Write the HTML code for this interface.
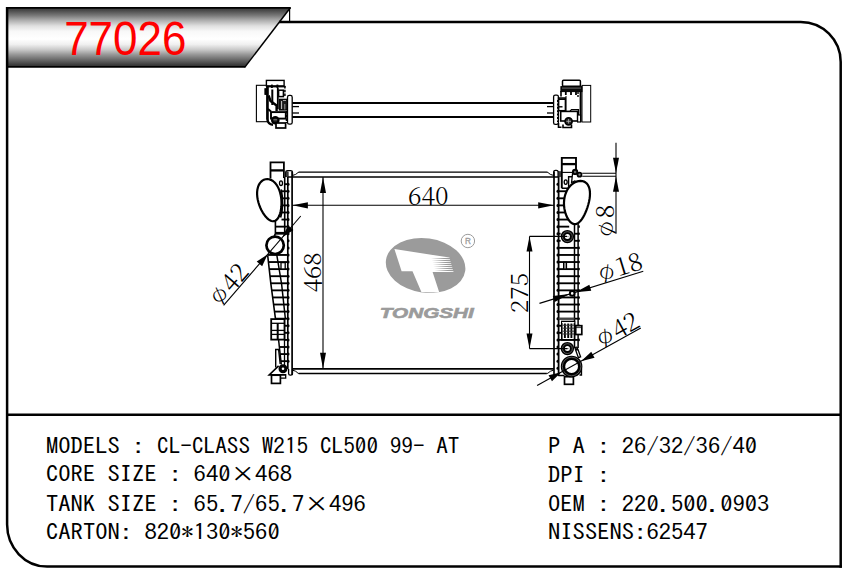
<!DOCTYPE html>
<html><head><meta charset="utf-8"><title>77026</title>
<style>html,body{margin:0;padding:0;background:#fff}svg{display:block}</style></head>
<body>
<svg width="852" height="576" viewBox="0 0 852 576">
<rect width="852" height="576" fill="#fff"/>
<defs><linearGradient id="bg" x1="0" y1="0" x2="0" y2="1"><stop offset="0" stop-color="#3a3a3a"/><stop offset="0.05" stop-color="#4a4a4a"/><stop offset="0.136" stop-color="#7a7a7a"/><stop offset="0.22" stop-color="#b0b0b0"/><stop offset="0.31" stop-color="#e0e0e0"/><stop offset="0.4" stop-color="#f8f8f8"/><stop offset="0.53" stop-color="#ffffff"/><stop offset="0.62" stop-color="#f0f0f0"/><stop offset="0.71" stop-color="#c8c8c8"/><stop offset="0.79" stop-color="#989898"/><stop offset="0.88" stop-color="#686868"/><stop offset="0.97" stop-color="#383838"/><stop offset="1" stop-color="#2a2a2a"/></linearGradient></defs>
<polygon points="7,7.5 290.3,7.5 244.8,67 7,67" fill="url(#bg)"/>
<path d="M 6.5,7.9 H 290.6 M 6.5,66.9 H 245.2" fill="none" stroke="#000" stroke-width="1.7" />
<line x1="290.5" y1="7.5" x2="244.7" y2="67.4" stroke="#000" stroke-width="1.5" />
<line x1="289.6" y1="7.5" x2="289.6" y2="22" stroke="#000" stroke-width="1.2" />
<path d="M 279,22 H 800.7 A 40,40 0 0 1 840.7,62 V 567.8" fill="none" stroke="#000" stroke-width="2.5" />
<path d="M 7.1,7 V 524.6 A 40,42 0 0 0 47.1,566.6 H 841.9" fill="none" stroke="#000" stroke-width="2.5" />
<line x1="7" y1="414.8" x2="841" y2="414.8" stroke="#000" stroke-width="2.5" />
<text x="125.3" y="54.8" font-family="'Liberation Sans','Noto Sans CJK SC',sans-serif" font-size="47.6" text-anchor="middle" fill="#ff0000" textLength="122.3" lengthAdjust="spacingAndGlyphs">77026</text>
<text x="46" y="454.1" font-family="'IPAGothic','Liberation Mono','Noto Sans CJK SC',monospace" font-size="21.8" fill="#000" textLength="98.4" lengthAdjust="spacingAndGlyphs">MODELS :</text>
<text x="548" y="454.3" font-family="'IPAGothic','Liberation Mono','Noto Sans CJK SC',monospace" font-size="21.8" fill="#000" textLength="209.1" lengthAdjust="spacingAndGlyphs">P A : 26/32/36/40</text>
<text x="46" y="482" font-family="'IPAGothic','Liberation Mono','Noto Sans CJK SC',monospace" font-size="21.8" fill="#000" textLength="246" lengthAdjust="spacingAndGlyphs">CORE SIZE : 640×468</text>
<text x="548" y="483.3" font-family="'IPAGothic','Liberation Mono','Noto Sans CJK SC',monospace" font-size="21.8" fill="#000" textLength="61.5" lengthAdjust="spacingAndGlyphs">DPI :</text>
<text x="46" y="512.3" font-family="'IPAGothic','Liberation Mono','Noto Sans CJK SC',monospace" font-size="21.8" fill="#000" textLength="319.8" lengthAdjust="spacingAndGlyphs">TANK SIZE : 65.7/65.7×496</text>
<text x="548" y="512.3" font-family="'IPAGothic','Liberation Mono','Noto Sans CJK SC',monospace" font-size="21.8" fill="#000" textLength="221.4" lengthAdjust="spacingAndGlyphs">OEM : 220.500.0903</text>
<text x="46" y="540.1" font-family="'IPAGothic','Liberation Mono','Noto Sans CJK SC',monospace" font-size="21.8" fill="#000" textLength="233.7" lengthAdjust="spacingAndGlyphs">CARTON: 820*130*560</text>
<text x="548" y="540.1" font-family="'IPAGothic','Liberation Mono','Noto Sans CJK SC',monospace" font-size="21.8" fill="#000" textLength="159.9" lengthAdjust="spacingAndGlyphs">NISSENS:62547</text>
<text x="157" y="454.1" font-family="'IPAGothic','Liberation Mono','Noto Sans CJK SC',monospace" font-size="21.8" fill="#000" textLength="302.5" lengthAdjust="spacingAndGlyphs">CL-CLASS W215 CL500 99- AT</text>
<line x1="292.2" y1="102.9" x2="553.6" y2="102.9" stroke="#000" stroke-width="2" />
<line x1="292.2" y1="117" x2="553.6" y2="117" stroke="#000" stroke-width="2" />
<line x1="292.2" y1="106.6" x2="299" y2="106.6" stroke="#000" stroke-width="1.3" />
<line x1="292.2" y1="113" x2="299" y2="113" stroke="#000" stroke-width="1.3" />
<line x1="547" y1="106.6" x2="553.6" y2="106.6" stroke="#000" stroke-width="1.3" />
<line x1="547" y1="113" x2="553.6" y2="113" stroke="#000" stroke-width="1.3" />
<rect x="256.4" y="85.3" width="11.6" height="36.4" rx="0" fill="none" stroke="#000" stroke-width="1.1"/>
<rect x="266.4" y="80.4" width="17.7" height="5.5" rx="0" fill="#fff" stroke="#000" stroke-width="1.4"/>
<line x1="266.4" y1="86.6" x2="285.5" y2="86.6" stroke="#000" stroke-width="1.6" />
<line x1="271.9" y1="84.6" x2="271.9" y2="88" stroke="#000" stroke-width="1.9" />
<line x1="277.4" y1="84.6" x2="277.4" y2="88" stroke="#000" stroke-width="1.9" />
<path d="M 267.3,85.9 V 119 Q 267.8,124.3 273,124.8" fill="none" stroke="#000" stroke-width="2.4" />
<rect x="264.9" y="88.7" width="2.7" height="5.7" rx="0" fill="#000" stroke="#000" stroke-width="1"/>
<line x1="272.3" y1="89.5" x2="272.3" y2="105" stroke="#000" stroke-width="2.0" />
<line x1="277.8" y1="88" x2="277.8" y2="109" stroke="#000" stroke-width="1.8" />
<path d="M 268.6,95.5 L 270.5,101 L 276.6,105.5 V 111" fill="none" stroke="#000" stroke-width="2.4" stroke-linejoin="round"/>
<path d="M 268,109 L 271,111.6" fill="none" stroke="#000" stroke-width="2.0" />
<rect x="278.6" y="90.2" width="4.8" height="6.4" rx="0" fill="#fff" stroke="#000" stroke-width="1.5"/>
<line x1="284.9" y1="86" x2="284.9" y2="96" stroke="#000" stroke-width="1.5" stroke-dasharray="2.5 1.2"/>
<rect x="279.3" y="99.3" width="8.3" height="10.7" rx="0" fill="#1c1c1c" stroke="#000" stroke-width="1.2"/>
<line x1="281.6" y1="101" x2="281.6" y2="109" stroke="#ddd" stroke-width="0.9" />
<line x1="284.8" y1="104" x2="284.8" y2="109.5" stroke="#bbb" stroke-width="0.8" />
<line x1="283" y1="100.5" x2="286" y2="100.5" stroke="#ccc" stroke-width="0.8" />
<rect x="271" y="112.1" width="14.8" height="6.5" rx="0" fill="#fff" stroke="#000" stroke-width="1.9"/>
<circle cx="275.3" cy="120.3" r="3.2" fill="#1c1c1c" stroke="#000" stroke-width="2.2"/>
<line x1="273.4" y1="119.8" x2="277.2" y2="119.8" stroke="#aaa" stroke-width="0.7" />
<rect x="276" y="123" width="9.6" height="5" rx="0" fill="#fff" stroke="#000" stroke-width="1.7"/>
<line x1="286.5" y1="111" x2="286.5" y2="123" stroke="#000" stroke-width="1.6" stroke-dasharray="2.5 1.2"/>
<rect x="287.5" y="95.4" width="4.7" height="28.8" rx="1.8" fill="#fff" stroke="#000" stroke-width="1.3"/>
<rect x="582" y="85.4" width="8.7" height="36.6" rx="0" fill="none" stroke="#000" stroke-width="1.0"/>
<rect x="562.5" y="80.2" width="17.9" height="6.1" rx="1" fill="#fff" stroke="#000" stroke-width="1.5"/>
<rect x="560.9" y="86.6" width="21.1" height="5" rx="0" fill="#0a0a0a" stroke="#000" stroke-width="1.0"/>
<line x1="562" y1="88.1" x2="581" y2="88.1" stroke="#aaa" stroke-width="0.6" />
<line x1="561" y1="91" x2="561" y2="96.5" stroke="#000" stroke-width="1.6" />
<line x1="565.8" y1="91.5" x2="565.8" y2="95" stroke="#000" stroke-width="1.8" />
<line x1="571" y1="91.5" x2="571" y2="95" stroke="#000" stroke-width="1.8" />
<line x1="576" y1="91.5" x2="576" y2="95" stroke="#000" stroke-width="1.8" />
<line x1="580.6" y1="91" x2="580.6" y2="122" stroke="#000" stroke-width="2.0" />
<line x1="578" y1="92" x2="578" y2="98" stroke="#000" stroke-width="1.4" stroke-dasharray="2 1"/>
<rect x="558.6" y="98" width="6.8" height="12.7" rx="0" fill="none" stroke="#000" stroke-width="1.5"/>
<line x1="558.6" y1="99.2" x2="565" y2="99.2" stroke="#000" stroke-width="1.6" />
<line x1="559" y1="106.8" x2="562.5" y2="106.8" stroke="#000" stroke-width="1.4" />
<line x1="566" y1="96" x2="566" y2="111" stroke="#000" stroke-width="1.0" />
<path d="M 570,111.2 L 571.5,109.6 H 578.5 V 121" fill="none" stroke="#000" stroke-width="1.2" />
<rect x="560.7" y="111.4" width="16.9" height="9.6" rx="0" fill="#fff" stroke="#000" stroke-width="1.6"/>
<rect x="577.6" y="115" width="3" height="7" rx="0" fill="#fff" stroke="#000" stroke-width="1.2"/>
<circle cx="568.6" cy="121.3" r="3.6" fill="#222" stroke="#000" stroke-width="1.6"/>
<line x1="566.4" y1="121.3" x2="571" y2="121.3" stroke="#bbb" stroke-width="0.8" />
<line x1="568.6" y1="119" x2="568.6" y2="123.5" stroke="#bbb" stroke-width="0.8" />
<path d="M 558.5,123 V 127.3 H 561.5 M 563,124.5 V 127.5 H 571.5 V 124.5" fill="none" stroke="#000" stroke-width="1.6" />
<rect x="553.6" y="95.2" width="4.8" height="29.1" rx="1.6" fill="none" stroke="#000" stroke-width="1.3"/>
<line x1="557.6" y1="100" x2="557.6" y2="122" stroke="#000" stroke-width="1.2" stroke-dasharray="2 1.4"/>
<line x1="298.7" y1="172.1" x2="547.4" y2="172.1" stroke="#000" stroke-width="1.3" />
<line x1="288" y1="177" x2="558" y2="177" stroke="#000" stroke-width="1.65" />
<line x1="292.1" y1="368.8" x2="554" y2="368.8" stroke="#000" stroke-width="1.7" />
<line x1="298.7" y1="373.5" x2="546.8" y2="373.5" stroke="#000" stroke-width="1.4" />
<path d="M 292.6,175.4 Q 296,174.6 297,173.4 T 298.9,172.3" fill="none" stroke="#000" stroke-width="1.0" />
<path d="M 553.6,175.4 Q 550,174.6 549,173.4 T 547.2,172.3" fill="none" stroke="#000" stroke-width="1.0" />
<path d="M 292.6,370.2 Q 296,371 297,372.3 T 298.9,373.5" fill="none" stroke="#000" stroke-width="1.0" />
<path d="M 553.6,370.2 Q 550,371 549,372.3 T 546.6,373.5" fill="none" stroke="#000" stroke-width="1.0" />
<line x1="292.1" y1="171.5" x2="292.1" y2="375" stroke="#000" stroke-width="1.7" />
<line x1="554" y1="171.5" x2="554" y2="375" stroke="#000" stroke-width="1.7" />
<path d="M 270.5,178.5 V 162.3 H 283.9 V 178" fill="none" stroke="#000" stroke-width="1.8" />
<line x1="270.5" y1="170.4" x2="283.9" y2="170.4" stroke="#000" stroke-width="2.3" />
<path d="M 285.7,177 V 172.4 Q 285.7,170.6 287.5,170.6 H 290.7 Q 292.5,170.6 292.5,172.4 V 177" fill="none" stroke="#000" stroke-width="1.3" />
<rect x="285.8" y="171.8" width="2.4" height="5" rx="0" fill="#3a3a3a" stroke="#000" stroke-width="0.5"/>
<line x1="284.7" y1="177" x2="284.7" y2="234" stroke="#000" stroke-width="1.6" />
<line x1="284.5" y1="318" x2="284.5" y2="366" stroke="#000" stroke-width="1.3" />
<line x1="287.8" y1="177" x2="287.8" y2="369" stroke="#000" stroke-width="1.7" />
<path d="M 275.4,221 V 233.5 L 273.5,238" fill="none" stroke="#000" stroke-width="1.6" />
<path d="M 267.7,255.5 L 270.9,284 L 275.5,319" fill="none" stroke="#000" stroke-width="1.6" />
<path d="M 276.8,255 L 281.6,284 L 285.4,319" fill="none" stroke="#000" stroke-width="1.5" />
<path d="M 278.6,340 L 281.3,364.5" fill="none" stroke="#000" stroke-width="1.5" />
<line x1="285" y1="184.16" x2="288.6" y2="184.16" stroke="#000" stroke-width="1.85" />
<ellipse cx="288.5" cy="184.16" rx="1.0" ry="1.5" fill="#000"/>
<line x1="281.5" y1="191.24" x2="288.6" y2="191.24" stroke="#000" stroke-width="1.85" />
<ellipse cx="288.5" cy="191.24" rx="1.0" ry="1.5" fill="#000"/>
<line x1="281.5" y1="198.32" x2="288.6" y2="198.32" stroke="#000" stroke-width="1.85" />
<ellipse cx="288.5" cy="198.32" rx="1.0" ry="1.5" fill="#000"/>
<line x1="281.5" y1="205.4" x2="288.6" y2="205.4" stroke="#000" stroke-width="1.85" />
<ellipse cx="288.5" cy="205.4" rx="1.0" ry="1.5" fill="#000"/>
<line x1="281.5" y1="212.48" x2="288.6" y2="212.48" stroke="#000" stroke-width="1.85" />
<ellipse cx="288.5" cy="212.48" rx="1.0" ry="1.5" fill="#000"/>
<line x1="281.5" y1="219.56" x2="288.6" y2="219.56" stroke="#000" stroke-width="1.85" />
<ellipse cx="288.5" cy="219.56" rx="1.0" ry="1.5" fill="#000"/>
<line x1="275.4" y1="226.64" x2="288.6" y2="226.64" stroke="#000" stroke-width="1.85" />
<ellipse cx="288.5" cy="226.64" rx="1.0" ry="1.5" fill="#000"/>
<line x1="275.4" y1="233.72" x2="288.6" y2="233.72" stroke="#000" stroke-width="1.85" />
<ellipse cx="288.5" cy="233.72" rx="1.0" ry="1.5" fill="#000"/>
<ellipse cx="288.5" cy="240.8" rx="1.0" ry="1.5" fill="#000"/>
<ellipse cx="288.5" cy="247.88" rx="1.0" ry="1.5" fill="#000"/>
<line x1="267.64" y1="254.96" x2="288.6" y2="254.96" stroke="#000" stroke-width="1.85" />
<ellipse cx="288.5" cy="254.96" rx="1.0" ry="1.5" fill="#000"/>
<line x1="268.43" y1="262.04" x2="288.6" y2="262.04" stroke="#000" stroke-width="1.85" />
<ellipse cx="288.5" cy="262.04" rx="1.0" ry="1.5" fill="#000"/>
<line x1="269.23" y1="269.12" x2="288.6" y2="269.12" stroke="#000" stroke-width="1.85" />
<ellipse cx="288.5" cy="269.12" rx="1.0" ry="1.5" fill="#000"/>
<line x1="270.02" y1="276.2" x2="288.6" y2="276.2" stroke="#000" stroke-width="1.85" />
<ellipse cx="288.5" cy="276.2" rx="1.0" ry="1.5" fill="#000"/>
<line x1="270.82" y1="283.28" x2="288.6" y2="283.28" stroke="#000" stroke-width="1.85" />
<ellipse cx="288.5" cy="283.28" rx="1.0" ry="1.5" fill="#000"/>
<line x1="271.74" y1="290.36" x2="288.6" y2="290.36" stroke="#000" stroke-width="1.85" />
<ellipse cx="288.5" cy="290.36" rx="1.0" ry="1.5" fill="#000"/>
<line x1="272.67" y1="297.44" x2="288.6" y2="297.44" stroke="#000" stroke-width="1.85" />
<ellipse cx="288.5" cy="297.44" rx="1.0" ry="1.5" fill="#000"/>
<line x1="273.6" y1="304.52" x2="288.6" y2="304.52" stroke="#000" stroke-width="1.85" />
<ellipse cx="288.5" cy="304.52" rx="1.0" ry="1.5" fill="#000"/>
<line x1="274.53" y1="311.6" x2="288.6" y2="311.6" stroke="#000" stroke-width="1.85" />
<ellipse cx="288.5" cy="311.6" rx="1.0" ry="1.5" fill="#000"/>
<line x1="275.46" y1="318.68" x2="288.6" y2="318.68" stroke="#000" stroke-width="1.85" />
<ellipse cx="288.5" cy="318.68" rx="1.0" ry="1.5" fill="#000"/>
<line x1="284.5" y1="325.76" x2="288.6" y2="325.76" stroke="#000" stroke-width="1.85" />
<ellipse cx="288.5" cy="325.76" rx="1.0" ry="1.5" fill="#000"/>
<line x1="284.5" y1="332.84" x2="288.6" y2="332.84" stroke="#000" stroke-width="1.85" />
<ellipse cx="288.5" cy="332.84" rx="1.0" ry="1.5" fill="#000"/>
<line x1="284.5" y1="339.92" x2="288.6" y2="339.92" stroke="#000" stroke-width="1.85" />
<ellipse cx="288.5" cy="339.92" rx="1.0" ry="1.5" fill="#000"/>
<line x1="279.37" y1="347" x2="288.6" y2="347" stroke="#000" stroke-width="1.85" />
<ellipse cx="288.5" cy="347" rx="1.0" ry="1.5" fill="#000"/>
<line x1="280.15" y1="354.08" x2="288.6" y2="354.08" stroke="#000" stroke-width="1.85" />
<ellipse cx="288.5" cy="354.08" rx="1.0" ry="1.5" fill="#000"/>
<line x1="280.93" y1="361.16" x2="288.6" y2="361.16" stroke="#000" stroke-width="1.85" />
<ellipse cx="288.5" cy="361.16" rx="1.0" ry="1.5" fill="#000"/>
<line x1="275.4" y1="232.6" x2="287.7" y2="232.6" stroke="#000" stroke-width="1.4" />
<rect x="281" y="262.6" width="4.2" height="6.4" rx="0" fill="#fff" stroke="#000" stroke-width="1.3"/>
<path d="M 274.07,221.17 L 275.31,220.73 L 276.47,219.94 L 277.53,218.8 L 278.49,217.34 L 279.34,215.59 L 280.06,213.55 L 280.65,211.29 L 281.09,208.82 L 281.37,206.2 L 281.49,203.47 L 281.42,200.69 L 281.17,197.89 L 280.72,195.13 L 280.07,192.46 L 279.23,189.92 L 278.2,187.57 L 276.99,185.44 L 275.62,183.57 L 274.1,182 L 272.48,180.74 L 270.77,179.83 L 269.02,179.26 L 267.26,179.07 L 265.53,179.23 L 263.88,179.75 L 262.34,180.62 L 260.95,181.83 L 259.73,183.34 L 258.73,185.13 L 257.95,187.17 L 257.42,189.43 L 257.13,191.86 L 257.1,194.43 L 257.32,197.09 L 257.77,199.8 L 258.43,202.51 L 259.29,205.19 L 260.32,207.78 L 261.49,210.25 L 262.78,212.55 L 264.15,214.64 L 265.57,216.5 L 267.03,218.09 L 268.5,219.38 L 269.95,220.34 L 271.38,220.97 L 272.75,221.25 Z" fill="#fff" stroke="#000" stroke-width="2.2" stroke-linejoin="round"/>
<path d="M 281.2,189.5 Q 282.6,196 282.5,204 T 280.6,217.5" fill="none" stroke="#000" stroke-width="1.7" />
<ellipse cx="281" cy="183.2" rx="1.5" ry="2.3" fill="#fff" stroke="#000" stroke-width="1.3"/>
<circle cx="275.1" cy="245.3" r="8.7" fill="#fff" stroke="#000" stroke-width="2.7"/>
<rect x="271.2" y="319.1" width="13.3" height="20.5" rx="0" fill="#fff" stroke="#000" stroke-width="1.8"/>
<line x1="277.7" y1="323" x2="277.7" y2="340" stroke="#000" stroke-width="2.0" />
<line x1="271.2" y1="323.3" x2="284.5" y2="323.3" stroke="#000" stroke-width="1.3" />
<line x1="271.2" y1="330.4" x2="284.5" y2="330.4" stroke="#000" stroke-width="1.3" />
<line x1="271.2" y1="334.4" x2="284.5" y2="334.4" stroke="#000" stroke-width="1.3" />
<path d="M 275.7,367.5 V 349.5 H 278.6 L 280.2,364" fill="none" stroke="#000" stroke-width="1.4" />
<path d="M 278.6,365.9 L 269.2,374.9 H 285.7" fill="none" stroke="#000" stroke-width="1.6" />
<rect x="271.5" y="375.2" width="8.9" height="8.2" rx="0" fill="#fff" stroke="#000" stroke-width="1.7"/>
<path d="M 280.4,378.2 H 285.7 V 374" fill="none" stroke="#000" stroke-width="1.3" />
<path d="M 288.6,369 V 373.4 Q 288.6,375.2 290.2,375.2 H 290.8 Q 292.5,375.2 292.5,373.4 V 369" fill="none" stroke="#000" stroke-width="1.3" />
<circle cx="283" cy="368.8" r="2.9" fill="#fff" stroke="#000" stroke-width="3.2"/>
<path d="M 561.8,188.3 V 157.9 H 576 V 172" fill="none" stroke="#000" stroke-width="1.9" />
<line x1="561.8" y1="164.1" x2="576" y2="164.1" stroke="#000" stroke-width="2.3" />
<line x1="561.8" y1="172.4" x2="574" y2="172.4" stroke="#000" stroke-width="1.1" />
<path d="M 561.8,188.3 H 568.6 V 176.8 H 572" fill="none" stroke="#000" stroke-width="1.4" />
<path d="M 553.7,177 V 172.1 Q 553.7,170.3 555.4,170.3 H 556.4 Q 558.1,170.3 558.1,172.1 V 177" fill="none" stroke="#000" stroke-width="1.3" />
<rect x="558.2" y="171.6" width="2.4" height="5.2" rx="0" fill="#3a3a3a" stroke="#000" stroke-width="0.5"/>
<path d="M 572.7,172 L 571.6,182.5 L 575.5,180.6" fill="none" stroke="#000" stroke-width="1.3" />
<circle cx="575.1" cy="171.9" r="2.2" fill="#666" stroke="#000" stroke-width="1.9"/>
<circle cx="579.5" cy="174.7" r="2" fill="#888" stroke="#000" stroke-width="1.7"/>
<line x1="558.6" y1="177" x2="558.6" y2="376" stroke="#000" stroke-width="1.8" />
<line x1="574.5" y1="223.5" x2="574.5" y2="348" stroke="#000" stroke-width="1.5" />
<line x1="578.1" y1="223.5" x2="578.1" y2="348" stroke="#000" stroke-width="1.5" />
<line x1="557.6" y1="191.24" x2="570" y2="191.24" stroke="#000" stroke-width="1.85" />
<line x1="557.6" y1="198.32" x2="570" y2="198.32" stroke="#000" stroke-width="1.85" />
<line x1="557.6" y1="205.4" x2="570" y2="205.4" stroke="#000" stroke-width="1.85" />
<line x1="557.6" y1="212.48" x2="570" y2="212.48" stroke="#000" stroke-width="1.85" />
<line x1="557.6" y1="219.56" x2="570" y2="219.56" stroke="#000" stroke-width="1.85" />
<line x1="557.6" y1="226.64" x2="569.2" y2="226.64" stroke="#000" stroke-width="1.85" />
<line x1="557.6" y1="233.72" x2="560.6" y2="233.72" stroke="#000" stroke-width="1.85" />
<line x1="574" y1="233.72" x2="579" y2="233.72" stroke="#000" stroke-width="1.85" />
<line x1="557.6" y1="240.8" x2="560.6" y2="240.8" stroke="#000" stroke-width="1.85" />
<line x1="574" y1="240.8" x2="579" y2="240.8" stroke="#000" stroke-width="1.85" />
<line x1="557.6" y1="247.88" x2="579" y2="247.88" stroke="#000" stroke-width="1.85" />
<line x1="557.6" y1="254.96" x2="579" y2="254.96" stroke="#000" stroke-width="1.85" />
<line x1="557.6" y1="262.04" x2="579" y2="262.04" stroke="#000" stroke-width="1.85" />
<line x1="557.6" y1="269.12" x2="579" y2="269.12" stroke="#000" stroke-width="1.85" />
<line x1="557.6" y1="276.2" x2="579" y2="276.2" stroke="#000" stroke-width="1.85" />
<line x1="557.6" y1="283.28" x2="579" y2="283.28" stroke="#000" stroke-width="1.85" />
<line x1="557.6" y1="290.36" x2="579" y2="290.36" stroke="#000" stroke-width="1.85" />
<line x1="557.6" y1="297.44" x2="579" y2="297.44" stroke="#000" stroke-width="1.85" />
<line x1="557.6" y1="304.52" x2="579" y2="304.52" stroke="#000" stroke-width="1.85" />
<line x1="557.6" y1="311.6" x2="579" y2="311.6" stroke="#000" stroke-width="1.85" />
<line x1="557.6" y1="318.68" x2="579" y2="318.68" stroke="#000" stroke-width="1.85" />
<line x1="557.6" y1="325.76" x2="579" y2="325.76" stroke="#000" stroke-width="1.85" />
<line x1="557.6" y1="332.84" x2="579" y2="332.84" stroke="#000" stroke-width="1.85" />
<line x1="557.6" y1="339.92" x2="579" y2="339.92" stroke="#000" stroke-width="1.85" />
<ellipse cx="557.5" cy="184.16" rx="1.0" ry="1.5" fill="#000"/>
<ellipse cx="557.5" cy="191.24" rx="1.0" ry="1.5" fill="#000"/>
<ellipse cx="557.5" cy="198.32" rx="1.0" ry="1.5" fill="#000"/>
<ellipse cx="557.5" cy="205.4" rx="1.0" ry="1.5" fill="#000"/>
<ellipse cx="557.5" cy="212.48" rx="1.0" ry="1.5" fill="#000"/>
<ellipse cx="557.5" cy="219.56" rx="1.0" ry="1.5" fill="#000"/>
<ellipse cx="557.5" cy="226.64" rx="1.0" ry="1.5" fill="#000"/>
<ellipse cx="557.5" cy="233.72" rx="1.0" ry="1.5" fill="#000"/>
<ellipse cx="557.5" cy="240.8" rx="1.0" ry="1.5" fill="#000"/>
<ellipse cx="557.5" cy="247.88" rx="1.0" ry="1.5" fill="#000"/>
<ellipse cx="557.5" cy="254.96" rx="1.0" ry="1.5" fill="#000"/>
<ellipse cx="557.5" cy="262.04" rx="1.0" ry="1.5" fill="#000"/>
<ellipse cx="557.5" cy="269.12" rx="1.0" ry="1.5" fill="#000"/>
<ellipse cx="557.5" cy="276.2" rx="1.0" ry="1.5" fill="#000"/>
<ellipse cx="557.5" cy="283.28" rx="1.0" ry="1.5" fill="#000"/>
<ellipse cx="557.5" cy="290.36" rx="1.0" ry="1.5" fill="#000"/>
<ellipse cx="557.5" cy="297.44" rx="1.0" ry="1.5" fill="#000"/>
<ellipse cx="557.5" cy="304.52" rx="1.0" ry="1.5" fill="#000"/>
<ellipse cx="557.5" cy="311.6" rx="1.0" ry="1.5" fill="#000"/>
<ellipse cx="557.5" cy="318.68" rx="1.0" ry="1.5" fill="#000"/>
<ellipse cx="557.5" cy="325.76" rx="1.0" ry="1.5" fill="#000"/>
<ellipse cx="557.5" cy="332.84" rx="1.0" ry="1.5" fill="#000"/>
<ellipse cx="557.5" cy="339.92" rx="1.0" ry="1.5" fill="#000"/>
<ellipse cx="557.5" cy="347" rx="1.0" ry="1.5" fill="#000"/>
<ellipse cx="557.5" cy="354.08" rx="1.0" ry="1.5" fill="#000"/>
<ellipse cx="557.5" cy="361.16" rx="1.0" ry="1.5" fill="#000"/>
<ellipse cx="557.5" cy="368.24" rx="1.0" ry="1.5" fill="#000"/>
<ellipse cx="579" cy="226.64" rx="0.9" ry="1.3" fill="#000"/>
<ellipse cx="579" cy="233.72" rx="0.9" ry="1.3" fill="#000"/>
<ellipse cx="579" cy="240.8" rx="0.9" ry="1.3" fill="#000"/>
<ellipse cx="579" cy="247.88" rx="0.9" ry="1.3" fill="#000"/>
<ellipse cx="579" cy="254.96" rx="0.9" ry="1.3" fill="#000"/>
<ellipse cx="579" cy="262.04" rx="0.9" ry="1.3" fill="#000"/>
<ellipse cx="579" cy="269.12" rx="0.9" ry="1.3" fill="#000"/>
<ellipse cx="579" cy="276.2" rx="0.9" ry="1.3" fill="#000"/>
<ellipse cx="579" cy="283.28" rx="0.9" ry="1.3" fill="#000"/>
<ellipse cx="579" cy="290.36" rx="0.9" ry="1.3" fill="#000"/>
<ellipse cx="579" cy="297.44" rx="0.9" ry="1.3" fill="#000"/>
<ellipse cx="579" cy="304.52" rx="0.9" ry="1.3" fill="#000"/>
<ellipse cx="579" cy="311.6" rx="0.9" ry="1.3" fill="#000"/>
<ellipse cx="579" cy="318.68" rx="0.9" ry="1.3" fill="#000"/>
<ellipse cx="579" cy="325.76" rx="0.9" ry="1.3" fill="#000"/>
<ellipse cx="579" cy="332.84" rx="0.9" ry="1.3" fill="#000"/>
<ellipse cx="579" cy="339.92" rx="0.9" ry="1.3" fill="#000"/>
<path d="M 573.93,224.05 L 575.29,224.13 L 576.65,223.82 L 577.99,223.14 L 579.33,222.11 L 580.63,220.74 L 581.91,219.07 L 583.15,217.12 L 584.34,214.92 L 585.47,212.52 L 586.52,209.96 L 587.48,207.29 L 588.31,204.54 L 589.01,201.76 L 589.53,199 L 589.87,196.3 L 589.98,193.71 L 589.87,191.26 L 589.51,189 L 588.9,186.95 L 588.03,185.16 L 586.91,183.65 L 585.56,182.45 L 584.01,181.58 L 582.28,181.06 L 580.42,180.89 L 578.47,181.07 L 576.47,181.63 L 574.49,182.53 L 572.56,183.78 L 570.75,185.35 L 569.08,187.22 L 567.61,189.36 L 566.36,191.73 L 565.36,194.3 L 564.63,197.02 L 564.17,199.84 L 563.97,202.72 L 564.04,205.59 L 564.36,208.42 L 564.89,211.14 L 565.63,213.71 L 566.53,216.08 L 567.57,218.2 L 568.72,220.05 L 569.95,221.58 L 571.24,222.77 L 572.57,223.6 Z" fill="#fff" stroke="#000" stroke-width="2.2" stroke-linejoin="round"/>
<ellipse cx="565.7" cy="182.1" rx="1.5" ry="2.3" fill="#fff" stroke="#000" stroke-width="1.3"/>
<rect x="563.6" y="262.3" width="2.9" height="6.7" rx="0" fill="#999" stroke="#000" stroke-width="1.2"/>
<circle cx="567.4" cy="236.6" r="4.6" fill="#fff" stroke="#000" stroke-width="4.2"/>
<circle cx="567.4" cy="236.6" r="4.9" fill="none" stroke="#aaa" stroke-width="0.5"/>
<line x1="565.9" y1="236.6" x2="568.9" y2="236.6" stroke="#777" stroke-width="0.7" />
<circle cx="567.4" cy="348.6" r="4.6" fill="#fff" stroke="#000" stroke-width="4.2"/>
<circle cx="567.4" cy="348.6" r="4.9" fill="none" stroke="#aaa" stroke-width="0.5"/>
<line x1="565.9" y1="348.6" x2="568.9" y2="348.6" stroke="#777" stroke-width="0.7" />
<rect x="561.8" y="321.5" width="12.7" height="18.3" rx="0" fill="#fff" stroke="#000" stroke-width="1.6"/>
<line x1="564.9" y1="323.5" x2="564.9" y2="338" stroke="#000" stroke-width="1.9" />
<line x1="568.2" y1="323.5" x2="568.2" y2="338" stroke="#000" stroke-width="1.9" />
<line x1="571.4" y1="323.5" x2="571.4" y2="338" stroke="#000" stroke-width="1.9" />
<line x1="562.5" y1="325.2" x2="574" y2="325.2" stroke="#333" stroke-width="1.0" />
<line x1="562.5" y1="328.2" x2="574" y2="328.2" stroke="#333" stroke-width="1.0" />
<line x1="562.5" y1="331.2" x2="574" y2="331.2" stroke="#333" stroke-width="1.0" />
<line x1="562.5" y1="334" x2="574" y2="334" stroke="#333" stroke-width="1.0" />
<line x1="562" y1="322.6" x2="574.3" y2="322.6" stroke="#fff" stroke-width="1.0" />
<line x1="558.6" y1="318.7" x2="574.5" y2="318.7" stroke="#444" stroke-width="1.8" />
<rect x="575.7" y="325.7" width="6.1" height="8.8" rx="0" fill="#fff" stroke="#000" stroke-width="1.7"/>
<line x1="575.7" y1="327.6" x2="581.8" y2="327.6" stroke="#000" stroke-width="0.8" />
<circle cx="576.3" cy="348.3" r="1.3" fill="#333" stroke="#000" stroke-width="1.2"/>
<path d="M 575.7,350.2 L 578,349.6 L 580.6,356.8 L 578.4,357.6 Z" fill="#fff" stroke="#000" stroke-width="1.3" />
<path d="M 558.3,375.6 H 564.5 M 579.5,375 H 581.4 V 369" fill="none" stroke="#000" stroke-width="1.5" />
<rect x="564.5" y="376.7" width="8.9" height="7.6" rx="0" fill="#fff" stroke="#000" stroke-width="1.7"/>
<circle cx="571.6" cy="366.5" r="8.6" fill="#fff" stroke="#000" stroke-width="4.4"/>
<circle cx="571.6" cy="366.5" r="9.3" fill="none" stroke="#aaa" stroke-width="0.5"/>
<line x1="292.1" y1="205.3" x2="554" y2="205.3" stroke="#000" stroke-width="1.1" />
<polygon points="292.4,205.3 307.9,202.2 307.9,208.4" fill="#000"/>
<polygon points="553.7,205.3 538.2,208.4 538.2,202.2" fill="#000"/>
<text x="428.2" y="204.5" font-family="'Noto Serif CJK SC','Liberation Serif',serif" font-size="25" text-anchor="middle" fill="#000"  font-weight="300">640</text>
<line x1="323" y1="177" x2="323" y2="368.7" stroke="#000" stroke-width="1.1" />
<polygon points="323,177.2 326,193 320,193" fill="#000"/>
<polygon points="323,368.5 320,352.7 326,352.7" fill="#000"/>
<text x="321.2" y="272.3" font-family="'Noto Serif CJK SC','Liberation Serif',serif" font-size="24.6" text-anchor="middle" fill="#000" transform="rotate(-90 321.2 272.3)"  font-weight="300">468</text>
<line x1="529.5" y1="236.4" x2="529.5" y2="348.6" stroke="#000" stroke-width="1.1" />
<line x1="529.5" y1="236.4" x2="567" y2="236.4" stroke="#000" stroke-width="1.1" />
<line x1="529.5" y1="348.6" x2="567.5" y2="348.6" stroke="#000" stroke-width="1.1" />
<polygon points="529.5,236.4 532.5,251.4 526.5,251.4" fill="#000"/>
<polygon points="529.5,348.6 526.5,333.6 532.5,333.6" fill="#000"/>
<text x="528" y="293" font-family="'Noto Serif CJK SC','Liberation Serif',serif" font-size="24.6" text-anchor="middle" fill="#000" transform="rotate(-90 528 293)"  font-weight="300">275</text>
<line x1="616" y1="142.7" x2="616" y2="233.7" stroke="#000" stroke-width="1.1" />
<line x1="582.2" y1="173.3" x2="616" y2="173.3" stroke="#000" stroke-width="1.1" />
<line x1="582.2" y1="176.2" x2="616" y2="176.2" stroke="#000" stroke-width="1.1" />
<polygon points="616,173.3 613,157.8 619,157.8" fill="#000"/>
<polygon points="616,176.2 619,191.7 613,191.7" fill="#000"/>
<text transform="translate(606.8 229) rotate(-66) scale(1 1.08)" x="-7.31" y="4.88" font-family="'Noto Serif CJK SC','Liberation Serif',serif" font-weight="300" font-size="19.5" fill="#000">φ</text>
<text transform="translate(614.3 218.3) rotate(-90)" font-family="'Noto Serif CJK SC','Liberation Serif',serif" font-weight="300" font-size="25" fill="#000">8</text>
<line x1="223.6" y1="305.4" x2="300.8" y2="216" stroke="#000" stroke-width="1.1" />
<polygon points="282.2,237.6 287.97,225.41 293.42,230.11" fill="#000"/>
<polygon points="267.6,254.5 262.16,266.31 256.71,261.61" fill="#000"/>
<text transform="translate(219.5 295.5) rotate(-25.19) scale(1 1.08)" x="-7.31" y="4.88" font-family="'Noto Serif CJK SC','Liberation Serif',serif" font-weight="300" font-size="19.5" fill="#000">φ</text>
<text transform="translate(232.3 293.3) rotate(-49.19)" font-family="'Noto Serif CJK SC','Liberation Serif',serif" font-weight="300" font-size="25" fill="#000">42</text>
<line x1="539.5" y1="303.4" x2="643.3" y2="271.2" stroke="#000" stroke-width="1.1" />
<polygon points="569.5,294.1 554.69,302.04 552.79,295.93" fill="#000"/>
<polygon points="575.5,292.3 589.36,284.65 591.25,290.76" fill="#000"/>
<circle cx="572.2" cy="293.4" r="2.3" fill="#fff" stroke="#000" stroke-width="2.0"/>
<text transform="translate(606.6 273) rotate(6.77) scale(1 1.08)" x="-7.31" y="4.88" font-family="'Noto Serif CJK SC','Liberation Serif',serif" font-weight="300" font-size="19.5" fill="#000">φ</text>
<text transform="translate(618.3 276.6) rotate(-17.23)" font-family="'Noto Serif CJK SC','Liberation Serif',serif" font-weight="300" font-size="25" fill="#000">18</text>
<line x1="537.1" y1="385.5" x2="640.8" y2="328" stroke="#000" stroke-width="1.1" />
<polygon points="561.2,372.2 551.97,381.32 548.57,375.2" fill="#000"/>
<polygon points="581.1,361.2 591.26,351.68 594.56,357.63" fill="#000"/>
<text transform="translate(605.4 337.7) rotate(-5.01) scale(1 1.08)" x="-7.31" y="4.88" font-family="'Noto Serif CJK SC','Liberation Serif',serif" font-weight="300" font-size="19.5" fill="#000">φ</text>
<text transform="translate(617.7 339.3) rotate(-29.01)" font-family="'Noto Serif CJK SC','Liberation Serif',serif" font-weight="300" font-size="25" fill="#000">42</text>
<ellipse cx="425.6" cy="265.5" rx="40" ry="27.3" transform="rotate(8 425.6 265.5)" fill="#9b9b9b"/>
<polygon points="394.4,249 449.5,257.6 453.6,272 432.6,272 439.3,292.6 421.5,292.2 412.5,271.2 401.6,271.2" fill="#fff"/>
<polygon points="451.2,257.85 451.2,259.35 431,258.6" fill="#9b9b9b"/>
<polygon points="451.75,259.85 451.75,261.35 431.6,260.6" fill="#9b9b9b"/>
<polygon points="452.3,261.85 452.3,263.35 432.2,262.6" fill="#9b9b9b"/>
<polygon points="452.85,263.85 452.85,265.35 432.8,264.6" fill="#9b9b9b"/>
<polygon points="453.4,265.85 453.4,267.35 433.4,266.6" fill="#9b9b9b"/>
<polygon points="453.95,267.85 453.95,269.35 434,268.6" fill="#9b9b9b"/>
<polygon points="454.5,269.85 454.5,271.35 434.6,270.6" fill="#9b9b9b"/>
<circle cx="467.9" cy="241" r="6.7" fill="none" stroke="#9b9b9b" stroke-width="1.0"/>
<text x="467.9" y="243.9" font-family="'Liberation Sans','Noto Sans CJK SC',sans-serif" font-size="8.2" text-anchor="middle" fill="#9b9b9b" stroke="#9b9b9b" stroke-width="0.3">R</text>
<text x="426.8" y="318.4" font-family="'Liberation Sans','Noto Sans CJK SC',sans-serif" font-size="15.2" text-anchor="middle" fill="#9b9b9b" font-weight="bold" font-style="italic" textLength="94" lengthAdjust="spacingAndGlyphs" stroke="#9b9b9b" stroke-width="0.6">TONGSHI</text>
</svg>
</body></html>
